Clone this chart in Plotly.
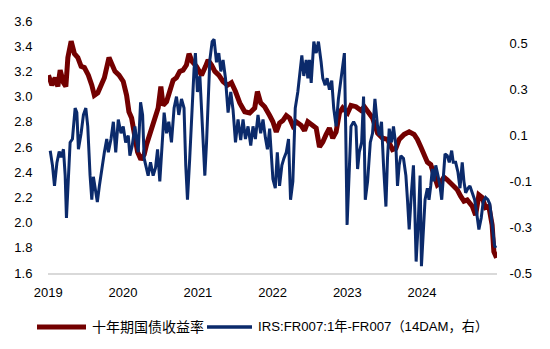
import plotly.graph_objects as go
import pandas as pd

# 10Y China government bond yield (left axis), time in decimal years
red_t = [2019.004, 2019.049, 2019.093, 2019.129, 2019.16, 2019.204, 2019.236, 2019.263, 2019.307, 2019.351,
         2019.396, 2019.44, 2019.484, 2019.537, 2019.583, 2019.617, 2019.663, 2019.707, 2019.751, 2019.813,
         2019.849, 2019.893, 2019.947, 2020.004, 2020.049, 2020.08, 2020.116, 2020.151, 2020.196, 2020.24,
         2020.284, 2020.316, 2020.36, 2020.427, 2020.471, 2020.507, 2020.537, 2020.583, 2020.627, 2020.671,
         2020.716, 2020.76, 2020.804, 2020.849, 2020.884, 2020.924, 2020.983, 2021.049, 2021.103, 2021.137,
         2021.183, 2021.227, 2021.28, 2021.337, 2021.396, 2021.449, 2021.503, 2021.56, 2021.627, 2021.693,
         2021.76, 2021.796, 2021.84, 2021.893, 2021.96, 2022.004, 2022.049, 2022.093, 2022.137, 2022.183,
         2022.227, 2022.271, 2022.316, 2022.383, 2022.427, 2022.471, 2022.537, 2022.583, 2022.627, 2022.671,
         2022.716, 2022.76, 2022.804, 2022.849, 2022.893, 2022.937, 2023.004, 2023.049, 2023.116, 2023.183,
         2023.227, 2023.28, 2023.337, 2023.404, 2023.471, 2023.537, 2023.604, 2023.649, 2023.693, 2023.76,
         2023.827, 2023.893, 2023.937, 2023.983, 2024.027, 2024.071, 2024.116, 2024.16, 2024.204, 2024.249,
         2024.293, 2024.337, 2024.404, 2024.471, 2024.516, 2024.56, 2024.604, 2024.671, 2024.716, 2024.76,
         2024.804, 2024.849, 2024.893, 2024.937, 2024.96, 2024.996]
red_v = [3.17, 3.09, 3.15, 3.08, 3.21, 3.11, 3.08, 3.31, 3.44, 3.34,
         3.31, 3.24, 3.23, 3.17, 3.09, 3.01, 3.03, 3.09, 3.15, 3.31,
         3.27, 3.20, 3.17, 3.12, 3.01, 2.88, 2.83, 2.72, 2.56, 2.50,
         2.54, 2.62, 2.70, 2.80, 2.91, 3.08, 2.93, 2.96, 3.04, 3.13,
         3.15, 3.20, 3.21, 3.25, 3.34, 3.28, 3.24, 3.17, 3.24, 3.29,
         3.25, 3.20, 3.17, 3.12, 3.09, 3.11, 3.04, 2.95, 2.88, 2.87,
         2.91, 3.04, 2.95, 2.92, 2.85, 2.80, 2.72, 2.79, 2.81, 2.85,
         2.83, 2.77, 2.80, 2.77, 2.73, 2.80, 2.77, 2.75, 2.60, 2.64,
         2.70, 2.75, 2.67, 2.72, 2.87, 2.91, 2.87, 2.93, 2.92, 2.89,
         2.92, 2.87, 2.83, 2.71, 2.67, 2.66, 2.58, 2.59, 2.66, 2.70,
         2.72, 2.70, 2.66, 2.60, 2.55, 2.48, 2.46, 2.38, 2.30, 2.32,
         2.36, 2.34, 2.30, 2.26, 2.21, 2.17, 2.18, 2.13, 2.06, 2.22,
         2.20, 2.12, 2.13, 1.98, 1.77, 1.72]

# IRS FR007 1Y - FR007 (14DMA), right axis
blue_t = [2019.027, 2019.057, 2019.084, 2019.116, 2019.147, 2019.173, 2019.204, 2019.227, 2019.244, 2019.271,
          2019.293, 2019.324, 2019.36, 2019.383, 2019.404, 2019.44, 2019.471, 2019.503, 2019.529, 2019.56,
          2019.583, 2019.604, 2019.627, 2019.657, 2019.684, 2019.716, 2019.751, 2019.783, 2019.804, 2019.84,
          2019.871, 2019.903, 2019.937, 2019.973, 2020.004, 2020.036, 2020.071, 2020.093, 2020.124, 2020.16,
          2020.183, 2020.204, 2020.236, 2020.263, 2020.284, 2020.307, 2020.337, 2020.369, 2020.404, 2020.436,
          2020.463, 2020.493, 2020.524, 2020.551, 2020.583, 2020.613, 2020.649, 2020.684, 2020.716, 2020.747,
          2020.783, 2020.817, 2020.84, 2020.863, 2020.893, 2020.924, 2020.951, 2020.969, 2020.996, 2021.027,
          2021.049, 2021.071, 2021.093, 2021.116, 2021.137, 2021.16, 2021.191, 2021.217, 2021.249, 2021.28,
          2021.307, 2021.337, 2021.369, 2021.404, 2021.44, 2021.471, 2021.503, 2021.537, 2021.573, 2021.604,
          2021.636, 2021.671, 2021.707, 2021.737, 2021.769, 2021.804, 2021.84, 2021.871, 2021.903, 2021.93,
          2021.96, 2021.983, 2022.004, 2022.036, 2022.063, 2022.093, 2022.124, 2022.151, 2022.183, 2022.213,
          2022.24, 2022.271, 2022.303, 2022.337, 2022.373, 2022.391, 2022.417, 2022.449, 2022.471, 2022.493,
          2022.516, 2022.551, 2022.583, 2022.613, 2022.649, 2022.671, 2022.703, 2022.729, 2022.76, 2022.791,
          2022.817, 2022.849, 2022.88, 2022.916, 2022.943, 2022.96, 2022.977, 2022.996, 2023.023, 2023.049,
          2023.084, 2023.116, 2023.137, 2023.16, 2023.191, 2023.217, 2023.24, 2023.271, 2023.307, 2023.337,
          2023.369, 2023.404, 2023.427, 2023.457, 2023.484, 2023.516, 2023.537, 2023.56, 2023.591, 2023.617,
          2023.649, 2023.671, 2023.693, 2023.716, 2023.751, 2023.783, 2023.804, 2023.827, 2023.857, 2023.884,
          2023.903, 2023.92, 2023.947, 2023.973, 2023.991, 2024.017, 2024.04, 2024.071, 2024.093, 2024.116,
          2024.137, 2024.16, 2024.183, 2024.213, 2024.24, 2024.263, 2024.284, 2024.307, 2024.337, 2024.364,
          2024.396, 2024.417, 2024.449, 2024.48, 2024.507, 2024.537, 2024.56, 2024.583, 2024.613, 2024.64,
          2024.671, 2024.703, 2024.729, 2024.76, 2024.791, 2024.817, 2024.849, 2024.88, 2024.907, 2024.937,
          2024.969, 2024.987]
blue_v = [0.034, -0.03, -0.12, -0.02, 0.03, 0.005, 0.04, -0.075, -0.26, -0.075,
          0.07, 0.085, 0.22, 0.20, 0.04, 0.11, 0.19, 0.22, 0.14, -0.075,
          -0.18, -0.08, -0.12, -0.19, -0.12, -0.046, 0.027, 0.085, 0.027, 0.085,
          0.16, 0.027, 0.17, 0.11, 0.14, 0.07, 0.10, 0.012, 0.056, 0.14,
          0.085, 0.027, 0.245, 0.19, 0.0, -0.03, -0.075, -0.017, -0.075, -0.04,
          0.04, -0.10, 0.056, 0.20, 0.11, 0.16, 0.07, 0.22, 0.27, 0.19,
          0.26, 0.22, -0.03, -0.18, 0.0, 0.22, 0.39, 0.46, 0.29, 0.36,
          0.22, 0.027, -0.075, 0.07, 0.29, 0.43, 0.51, 0.52, 0.42, 0.46,
          0.38, 0.43, 0.35, 0.20, 0.29, 0.21, 0.07, 0.17, 0.08, 0.17,
          0.085, 0.14, 0.056, 0.14, 0.085, 0.19, 0.11, 0.17, 0.09, 0.04,
          0.13, 0.0, -0.09, -0.13, 0.027, -0.12, -0.03, 0.0, 0.027, 0.085,
          -0.18, -0.10, 0.22, 0.29, 0.39, 0.45, 0.36, 0.43, 0.35, 0.43,
          0.33, 0.51, 0.46, 0.51, 0.42, 0.35, 0.32, 0.35, 0.30, 0.34,
          0.22, 0.14, 0.26, 0.36, 0.42, 0.46, 0.14, -0.29, -0.075, 0.14,
          0.16, 0.14, -0.046, 0.027, 0.07, 0.27, -0.18, -0.10, 0.07, 0.11,
          0.26, 0.14, 0.10, 0.16, -0.03, -0.21, 0.0, 0.13, 0.07, 0.14,
          0.056, -0.12, -0.03, 0.012, 0.0, -0.075, -0.18, -0.31, -0.15, -0.03,
          -0.235, -0.45, -0.29, -0.075, -0.47, -0.32, -0.18, -0.13, -0.18, -0.12,
          -0.046, -0.10, -0.03, -0.075, -0.12, -0.18, -0.06, 0.02, 0.012, -0.017,
          0.034, -0.017, -0.017, -0.06, -0.13, -0.017, -0.10, -0.15, -0.13, -0.12,
          -0.15, -0.18, -0.235, -0.31, -0.26, -0.19, -0.17, -0.18, -0.20, -0.29,
          -0.38, -0.39]

left_ticks = [1.6, 1.8, 2.0, 2.2, 2.4, 2.6, 2.8, 3.0, 3.2, 3.4, 3.6]
right_ticks = [-0.5, -0.3, -0.1, 0.1, 0.3, 0.5]
year_ticks = ["2019", "2020", "2021", "2022", "2023", "2024"]
series_names = ["十年期国债收益率", "IRS:FR007:1年-FR007（14DAM，右）"]
series_colors = ["#730000", "#0B2A6B"]


def to_date(t):
    y = int(t)
    return pd.Timestamp(year=y, month=1, day=1) + pd.Timedelta(days=(t - y) * 365.25)


red_x = [to_date(t) for t in red_t]
blue_x = [to_date(t) for t in blue_t]

FONT = "Liberation Sans, Arial, Noto Sans CJK SC, sans-serif"

# plot area in pixels (for placing the hand-made legend)
W, H = 550, 349
ML, MR, MT, MB = 48, 53, 21, 76
PW, PH = W - ML - MR, H - MT - MB


def px(x):
    return (x - ML) / PW


def py(y):
    return (H - MB - y) / PH


fig = go.Figure()
fig.add_trace(go.Scatter(x=red_x, y=red_v, mode="lines", name=series_names[0],
                         line=dict(color=series_colors[0], width=5), showlegend=False))
fig.add_trace(go.Scatter(x=blue_x, y=blue_v, mode="lines", name=series_names[1],
                         line=dict(color=series_colors[1], width=3), yaxis="y2", showlegend=False))

# legend (sample line + label)
legend_items = [
    dict(x0=37, x1=86, tx=90, w=5, size=14),
    dict(x0=207, x1=252, tx=256, w=3.5, size=13.2),
]
shapes = []
annotations = []
for name, col, it in zip(series_names, series_colors, legend_items):
    shapes.append(dict(type="line", xref="paper", yref="paper",
                       x0=px(it["x0"]), x1=px(it["x1"]), y0=py(327), y1=py(327),
                       line=dict(color=col, width=it["w"])))
    annotations.append(dict(xref="paper", yref="paper", x=px(it["tx"]), y=py(326.5),
                            xanchor="left", yanchor="middle", showarrow=False, text=name,
                            font=dict(size=it["size"], family=FONT, color="#000")))

fig.update_layout(
    width=W, height=H,
    margin=dict(l=ML, r=MR, t=MT, b=MB),
    paper_bgcolor="white", plot_bgcolor="white",
    font=dict(family=FONT, size=13, color="#000000"),
    showlegend=False,
    shapes=shapes,
    annotations=annotations,
    xaxis=dict(type="date", range=["2018-12-31", "2025-01-01"],
               tickvals=[pd.Timestamp(f"{y}-01-01") for y in year_ticks], ticktext=year_ticks,
               showgrid=False, zeroline=False, showline=True, linecolor="#D9D9D9", linewidth=2,
               ticks="outside", ticklen=6, tickcolor="rgba(0,0,0,0)",
               tickfont=dict(size=13, color="#000")),
    yaxis=dict(range=[1.6, 3.6], tickvals=left_ticks, ticktext=[f"{v:.1f}" for v in left_ticks],
               showgrid=False, zeroline=False, showline=False,
               ticks="outside", ticklen=12, tickcolor="rgba(0,0,0,0)",
               tickfont=dict(size=13, color="#000")),
    yaxis2=dict(range=[-0.5, 0.6], overlaying="y", side="right",
                tickvals=right_ticks, ticktext=[f"{v:.1f}" for v in right_ticks],
                showgrid=False, zeroline=False, showline=False,
                ticks="outside", ticklen=9, tickcolor="rgba(0,0,0,0)",
                tickfont=dict(size=13, color="#000")),
)

fig.write_html("out.html")
